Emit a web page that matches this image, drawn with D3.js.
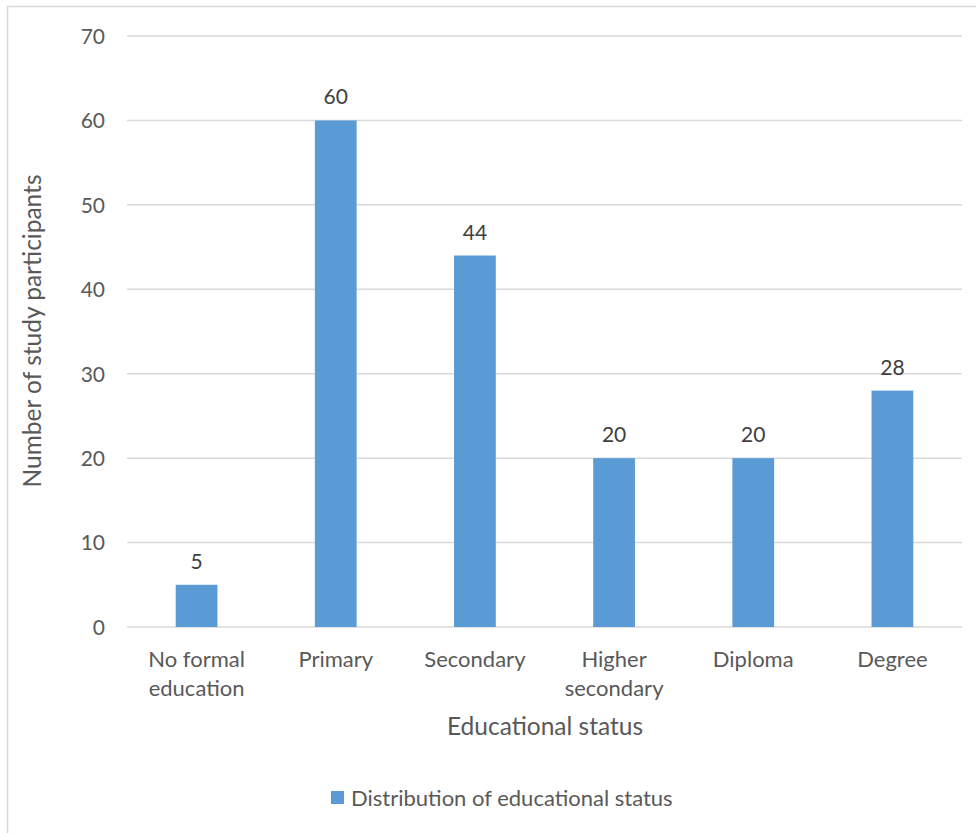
<!DOCTYPE html>
<html><head><meta charset="utf-8">
<script src="https://cdn.jsdelivr.net/npm/d3@7"></script>
<style>
html,body{margin:0;padding:0;background:#fff;}
svg text{font-family:Lato,"Open Sans",sans-serif;}
</style></head>
<body><svg id="c" width="976" height="833"></svg>
<script>
const categories = [["No formal","education"],["Primary"],["Secondary"],["Higher","secondary"],["Diploma"],["Degree"]];
const values = [5,60,44,20,20,28];
const yTicks = [0,10,20,30,40,50,60,70];
const seriesName = "Distribution of educational status";
const xTitle = "Educational status";
const yTitle = "Number of study participants";

const svg = d3.select("#c");
svg.append("rect").attr("x",7.5).attr("y",6.5).attr("width",980).attr("height",840)
  .attr("fill","#fff").attr("stroke","#d9d9d9").attr("stroke-width",1.5);

const pL=127, pR=962, pT=36, pB=627;
const x = d3.scaleBand().domain(d3.range(categories.length)).range([pL,pR]).paddingInner(0.7).paddingOuter(0.35);
const y = d3.scaleLinear().domain([0,70]).range([pB,pT]);

const g = svg.append("g");
g.selectAll("line.grid").data(yTicks).join("line")
  .attr("x1",pL).attr("x2",pR).attr("y1",d=>y(d)).attr("y2",d=>y(d))
  .attr("stroke","#d9d9d9").attr("stroke-width",1.5);

const yAxis = d3.axisLeft(y).tickValues(yTicks).tickSize(0).tickPadding(0);
const ya = svg.append("g").attr("transform",`translate(${pL-22},0)`).call(yAxis);
ya.select(".domain").remove();
ya.selectAll("text").attr("font-size",21).attr("fill","#595959").attr("dy","0.35em").attr("font-family","Lato");

g.selectAll("rect.bar").data(values).join("rect")
  .attr("x",(d,i)=>x(i)).attr("width",x.bandwidth())
  .attr("y",d=>y(d)).attr("height",d=>y(0)-y(d)).attr("fill","#5b9bd5");

g.selectAll("text.lbl").data(values).join("text")
  .attr("x",(d,i)=>x(i)+x.bandwidth()/2).attr("y",d=>y(d)-16)
  .attr("text-anchor","middle").attr("font-size",21).attr("fill","#404040").text(d=>d);

const xg = svg.append("g");
categories.forEach((c,i)=>{
  const t = xg.append("text").attr("x",x(i)+x.bandwidth()/2).attr("y",667)
    .attr("text-anchor","middle").attr("font-size",22).attr("fill","#595959");
  c.forEach((line,k)=>t.append("tspan").attr("x",x(i)+x.bandwidth()/2).attr("dy",k?29:0).text(line));
});

svg.append("text").attr("x",545).attr("y",735).attr("text-anchor","middle")
  .attr("font-size",24.5).attr("fill","#595959").text(xTitle);
svg.append("text").attr("transform","translate(41,331) rotate(-90)").attr("text-anchor","middle")
  .attr("font-size",24.5).attr("fill","#595959").text(yTitle);

svg.append("rect").attr("x",331).attr("y",791).attr("width",13).attr("height",13).attr("fill","#5b9bd5");
svg.append("text").attr("x",351).attr("y",806).attr("font-size",22).attr("fill","#595959").text(seriesName);
</script></body></html>
